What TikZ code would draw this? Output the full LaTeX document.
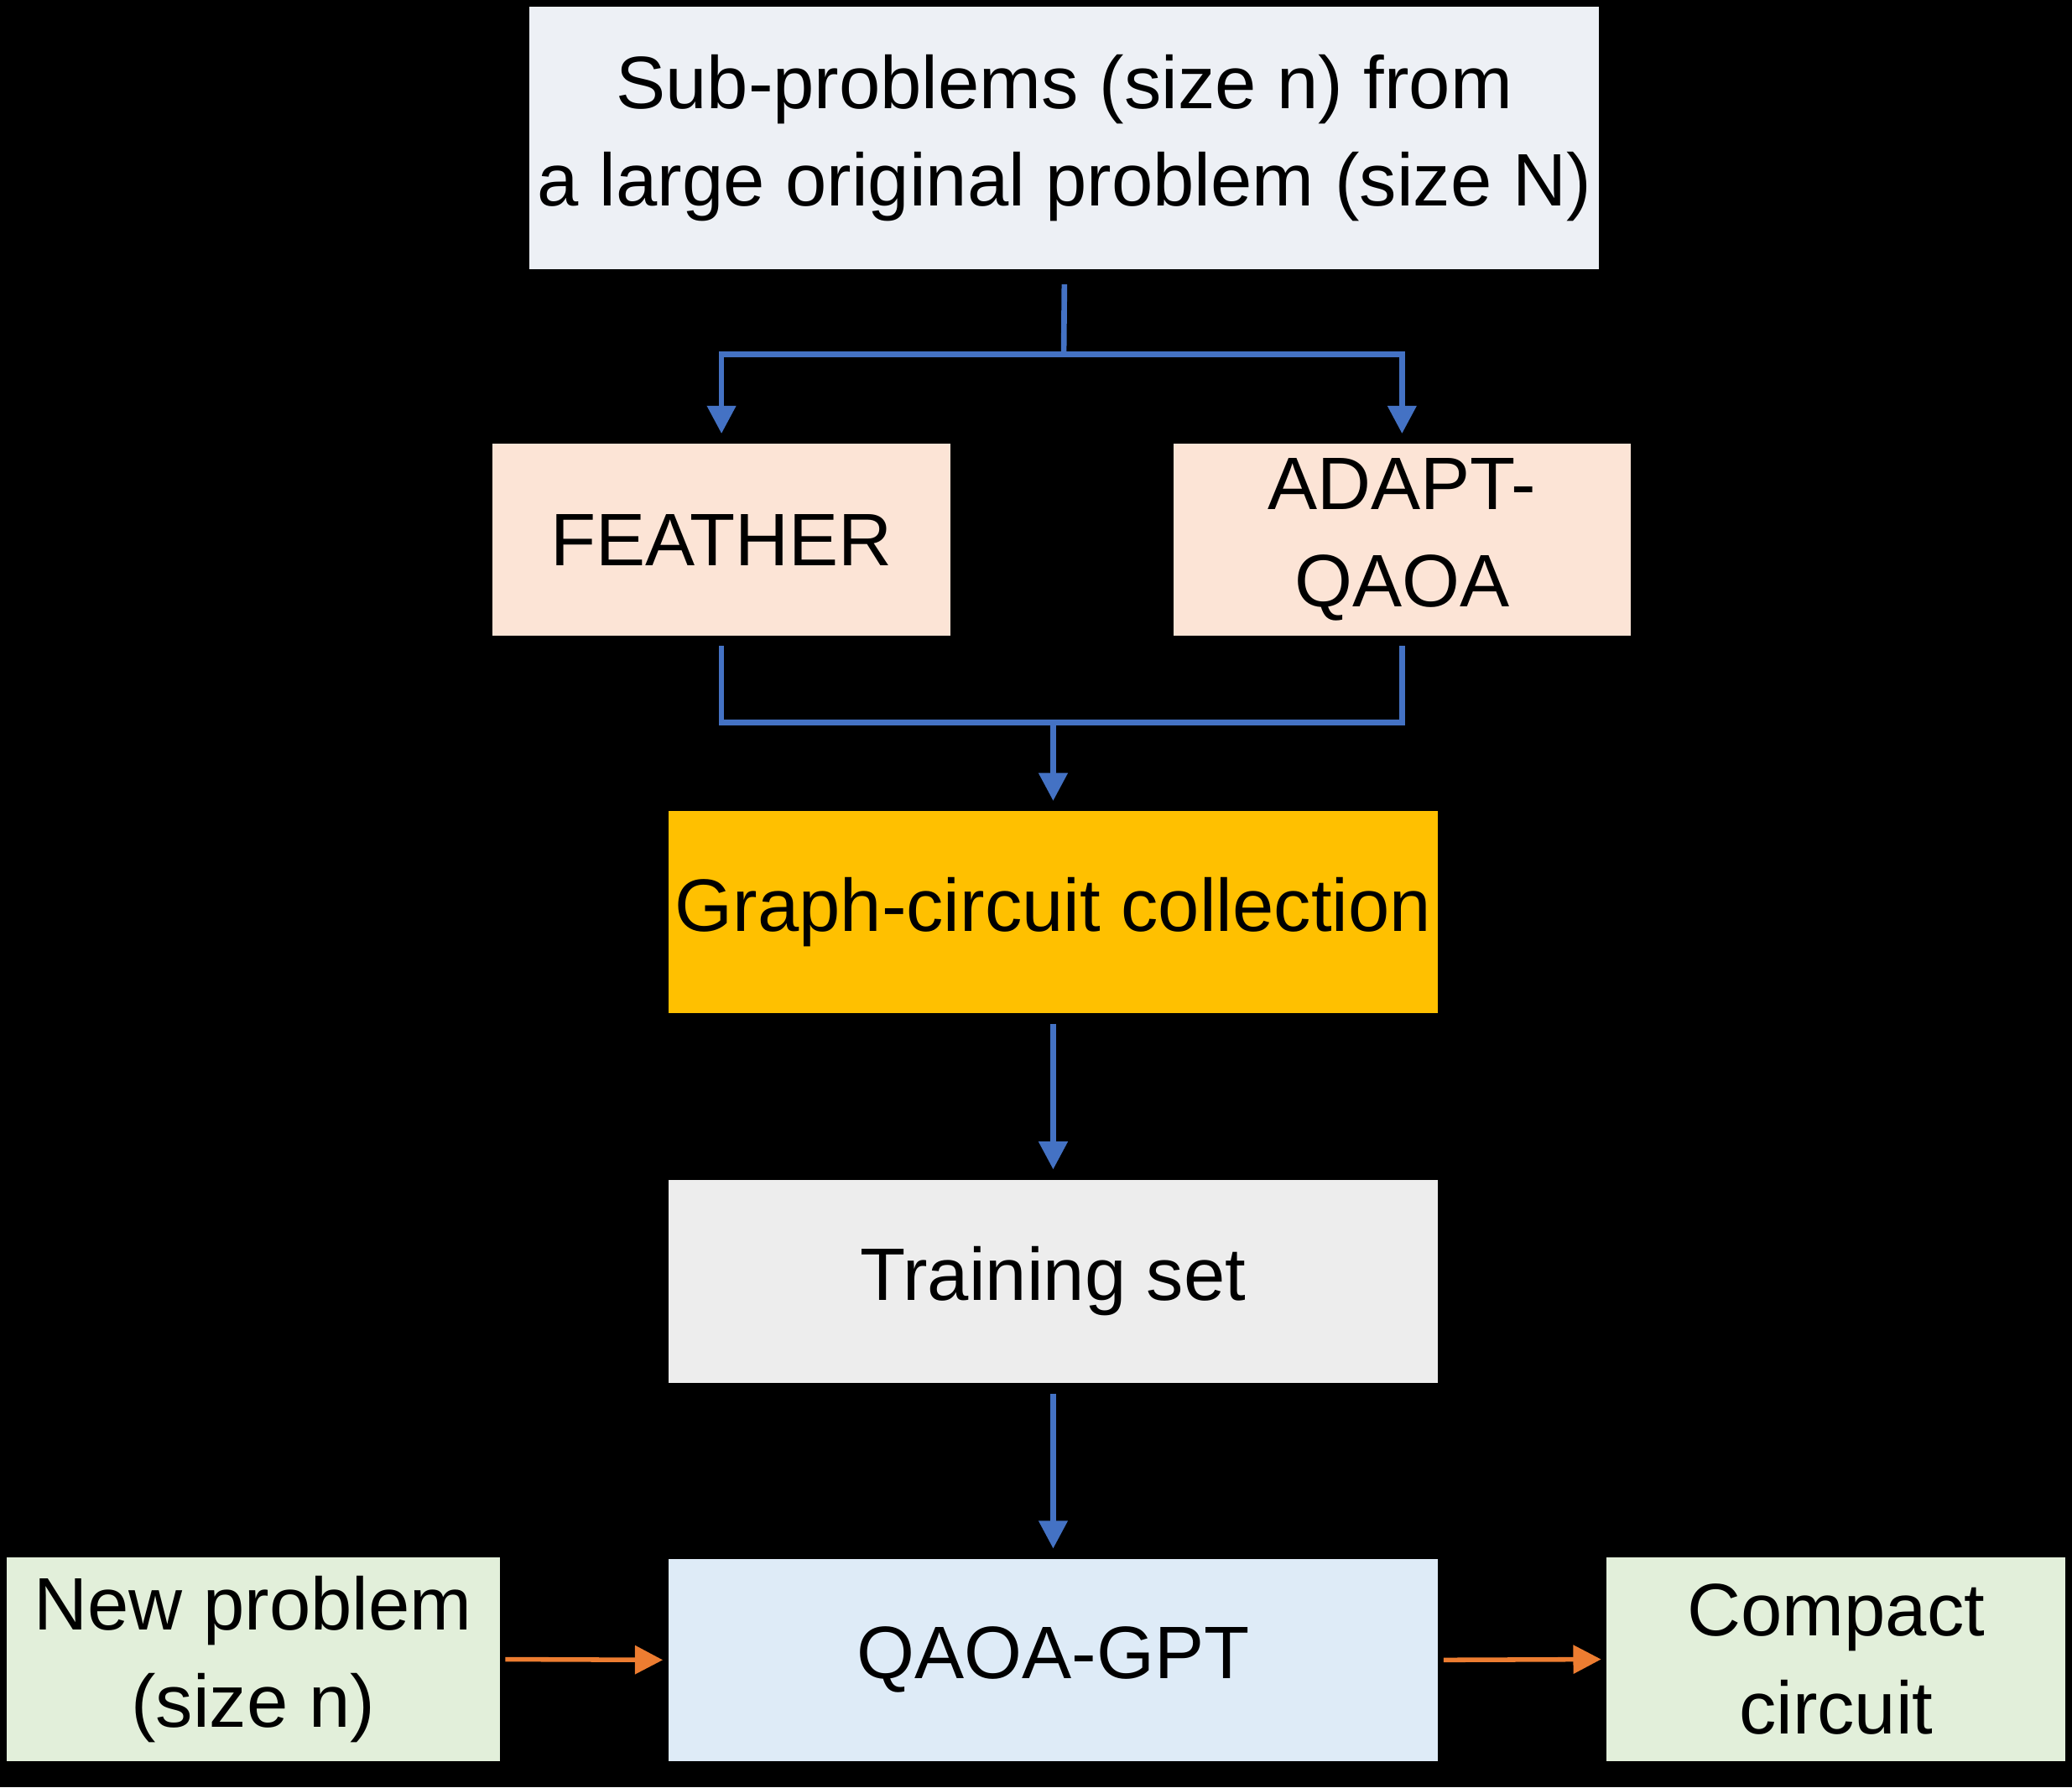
\documentclass[tikz,border=0pt]{standalone}
\usepackage{fontspec}
\setmainfont{Liberation Sans}
\usepackage{xcolor}
\usetikzlibrary{arrows.meta}
\definecolor{flowblue}{HTML}{4472C4}
\definecolor{floworange}{HTML}{ED7D31}
\definecolor{topgray}{HTML}{EDF0F5}
\definecolor{peach}{HTML}{FCE4D6}
\definecolor{gold}{HTML}{FFC000}
\definecolor{lightgray}{HTML}{EDEDED}
\definecolor{paleblue}{HTML}{DEEBF7}
\definecolor{palegreen}{HTML}{E2EFDA}
\begin{document}
\begin{tikzpicture}[
			     x=0.01cm, y=-0.01cm,
			     box/.style={draw=none, align=center, inner sep=0pt, font=\fontsize{16}{21}\selectfont},
			     blue line/.style={draw=flowblue, line width=1.2pt},
			     blue arrow/.style={blue line, -{Triangle[length=6pt,width=6pt]}},
			     orange arrow/.style={draw=floworange, line width=1pt, -{Triangle[length=6pt,width=6pt]}}
			     ]
\fill[black] (0,0) rectangle (1568,1353);
\useasboundingbox (0,0) rectangle (1568,1353);
\node[box, fill=topgray, minimum width=8.09cm, minimum height=1.99cm] (sub) at (805.5,104.5) {Sub-problems (size n) from\\a large original problem (size N)};
\node[box, fill=peach, minimum width=3.46cm, minimum height=1.45cm] (feather) at (546,408.5) {FEATHER};
\node[box, fill=peach, minimum width=3.46cm, minimum height=1.45cm] (adapt) at (1061,408.5) {ADAPT-\\QAOA};
\node[box, fill=gold, minimum width=5.82cm, minimum height=1.53cm] (coll) at (797,690.5) {Graph-circuit collection};
\node[box, fill=lightgray, minimum width=5.82cm, minimum height=1.54cm] (train) at (797,970) {Training set};
\node[box, fill=paleblue, minimum width=5.82cm, minimum height=1.53cm] (gpt) at (797,1256.5) {QAOA-GPT};
\node[box, fill=palegreen, minimum width=3.73cm, minimum height=1.54cm] (new) at (191.5,1256) {New problem\\(size n)};
\node[box, fill=palegreen, minimum width=3.47cm, minimum height=1.54cm] (compact) at (1389.5,1256) {Compact\\circuit};
\coordinate (split) at (805,268);
\coordinate (join) at (797,547);
% fan out
\draw[blue line] ([yshift=-3pt]sub.south) -- (split);
\draw[blue arrow] (split) -| ([yshift=2pt]feather.north);
\draw[blue arrow] (split) -| ([yshift=2pt]adapt.north);
% merge
\draw[blue line] ([yshift=-2pt]feather.south) |- (join) -| ([yshift=-2pt]adapt.south);
\draw[blue arrow] (join) -- ([yshift=2pt]coll.north);
\draw[blue arrow] ([yshift=-2pt]coll.south) -- ([yshift=2pt]train.north);
\draw[blue arrow] ([yshift=-2pt]train.south) -- ([yshift=2pt]gpt.north);
\draw[orange arrow] ([xshift=1pt]new.east) -- ([xshift=-1pt]gpt.west);
\draw[orange arrow] ([xshift=1pt]gpt.east) -- ([xshift=-1pt]compact.west);
\end{tikzpicture}
\end{document}
